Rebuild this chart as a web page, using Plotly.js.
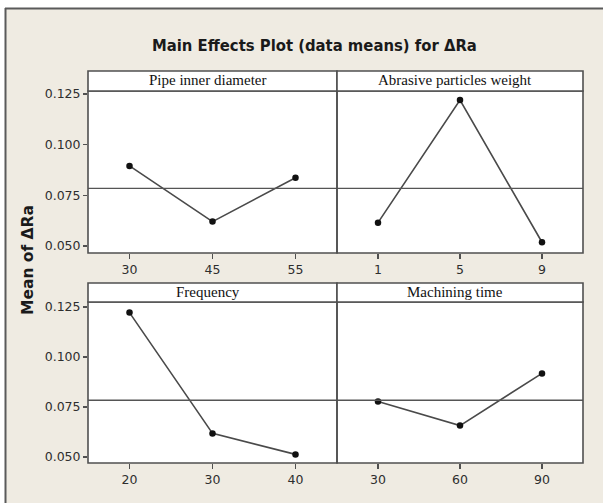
<!DOCTYPE html>
<html>
<head>
<meta charset="utf-8">
<script src="https://cdn.plot.ly/plotly-3.0.1.min.js"></script>
<style>html,body{margin:0;padding:0;background:#fff;}#chart{width:603px;height:503px;}</style>
</head>
<body>
<div id="chart"></div>
<script>
// ---- data ----
const chartTitle = 'Main Effects Plot (data means) for ΔRa';
const yTitle = 'Mean of ΔRa';
const factors = ['Pipe inner diameter', 'Abrasive particles weight', 'Frequency', 'Machining time'];
const pipeLevels = ['30', '45', '55'];
const pipeMeans = [0.0895, 0.0620, 0.0837];
const abrasiveLevels = ['1', '5', '9'];
const abrasiveMeans = [0.0615, 0.1220, 0.0518];
const freqLevels = ['20', '30', '40'];
const freqMeans = [0.1222, 0.0618, 0.0513];
const timeLevels = ['30', '60', '90'];
const timeMeans = [0.0777, 0.0657, 0.0918];
const grandMean = 0.0784;
const yTickVals = [0.050, 0.075, 0.100, 0.125];
const yTickText = ['0.050', '0.075', '0.100', '0.125'];

// ---- layout helpers (pixel -> paper) ----
const W = 603, H = 503;
const px = x => x / W;
const py = y => 1 - y / H;
const colX = [[88, 337], [337, 583]];
const rowY = [[91, 253], [302, 463]];
const stripY = [[71, 91], [283, 302]];
const yRanges = [[0.0465, 0.1265], [0.047, 0.1275]];

const levels = [pipeLevels, abrasiveLevels, freqLevels, timeLevels];
const means = [pipeMeans, abrasiveMeans, freqMeans, timeMeans];

const edge = '#505050';
const tickFont = {family: 'DejaVu Sans, sans-serif', size: 12.5, color: '#2e2e2e'};
const traces = [];
const layout = {
  width: W, height: H,
  margin: {l: 0, r: 0, t: 0, b: 0},
  paper_bgcolor: '#efebe2',
  plot_bgcolor: '#ffffff',
  showlegend: false,
  font: {family: 'DejaVu Sans, sans-serif', color: '#333333', size: 12},
  shapes: [],
  annotations: []
};

// white outside the frame, and frame borders
layout.shapes.push({type: 'rect', xref: 'paper', yref: 'paper', x0: 0, x1: 1, y0: py(8), y1: 1, fillcolor: '#ffffff', line: {width: 0}, layer: 'below'});
layout.shapes.push({type: 'rect', xref: 'paper', yref: 'paper', x0: 0, x1: px(5), y0: 0, y1: 1, fillcolor: '#ffffff', line: {width: 0}, layer: 'below'});
layout.shapes.push({type: 'line', xref: 'paper', yref: 'paper', x0: px(5), x1: 1, y0: py(8.5), y1: py(8.5), line: {color: '#5a5a5a', width: 2}});
layout.shapes.push({type: 'line', xref: 'paper', yref: 'paper', x0: px(5.5), x1: px(5.5), y0: 0, y1: py(8), line: {color: '#5a5a5a', width: 2}});

for (let i = 0; i < 4; i++) {
  const r = Math.floor(i / 2), c = i % 2;
  const n = i === 0 ? '' : String(i + 1);
  const xa = 'xaxis' + n, ya = 'yaxis' + n;
  traces.push({
    type: 'scatter', mode: 'lines+markers',
    x: levels[i], y: means[i],
    xaxis: 'x' + n, yaxis: 'y' + n,
    line: {color: '#4a4a4a', width: 1.6},
    marker: {color: '#111111', size: 6.5},
    hoverinfo: 'skip', cliponaxis: false
  });
  layout[xa] = {
    domain: [px(colX[c][0]), px(colX[c][1])],
    anchor: 'y' + n,
    type: 'category',
    range: [-0.5, 2.5],
    showgrid: false, zeroline: false, showline: false,
    ticks: 'outside', ticklen: 5, tickwidth: 1.2, tickcolor: edge,
    tickfont: tickFont,
    fixedrange: true
  };
  layout[ya] = {
    domain: [py(rowY[r][1]), py(rowY[r][0])],
    anchor: 'x' + n,
    range: yRanges[r],
    showgrid: false, zeroline: false, showline: false,
    tickvals: yTickVals, ticktext: yTickText,
    ticks: c === 0 ? 'outside' : '', ticklen: 4, tickwidth: 1.2, tickcolor: edge,
    showticklabels: c === 0,
    tickfont: tickFont,
    fixedrange: true
  };
  // reference line at the grand mean
  layout.shapes.push({type: 'line', xref: 'x' + n + ' domain', yref: 'y' + n, x0: 0, x1: 1, y0: grandMean, y1: grandMean, line: {color: '#555555', width: 1.4}});
  // panel border
  layout.shapes.push({type: 'rect', xref: 'paper', yref: 'paper', x0: px(colX[c][0]), x1: px(colX[c][1]), y0: py(rowY[r][1]), y1: py(rowY[r][0]), line: {color: edge, width: 1.6}});
  // strip
  layout.shapes.push({type: 'rect', xref: 'paper', yref: 'paper', x0: px(colX[c][0]), x1: px(colX[c][1]), y0: py(stripY[r][1]), y1: py(stripY[r][0]), fillcolor: '#ffffff', line: {color: edge, width: 1.6}});
  layout.annotations.push({
    xref: 'paper', yref: 'paper', x: px((colX[c][0] + colX[c][1]) / 2 - 5), y: py((stripY[r][0] + stripY[r][1]) / 2 - 1),
    text: factors[i], showarrow: false, xanchor: 'center', yanchor: 'middle',
    font: {family: 'Liberation Serif, serif', size: 15, color: '#111111'}
  });
}

layout.annotations.push({
  xref: 'paper', yref: 'paper', x: px(314), y: py(45), text: '<b>' + chartTitle + '</b>',
  showarrow: false, xanchor: 'center', yanchor: 'middle',
  font: {family: 'DejaVu Sans Condensed, Liberation Sans Narrow, sans-serif', size: 16.5, color: '#1a1a1a'}
});
layout.annotations.push({
  xref: 'paper', yref: 'paper', x: px(28), y: py(260), text: '<b>' + yTitle + '</b>',
  showarrow: false, xanchor: 'center', yanchor: 'middle', textangle: -90,
  font: {family: 'DejaVu Sans, sans-serif', size: 15.5, color: '#1a1a1a'}
});

Plotly.newPlot('chart', traces, layout, {displayModeBar: false, staticPlot: true});
</script>
</body>
</html>
